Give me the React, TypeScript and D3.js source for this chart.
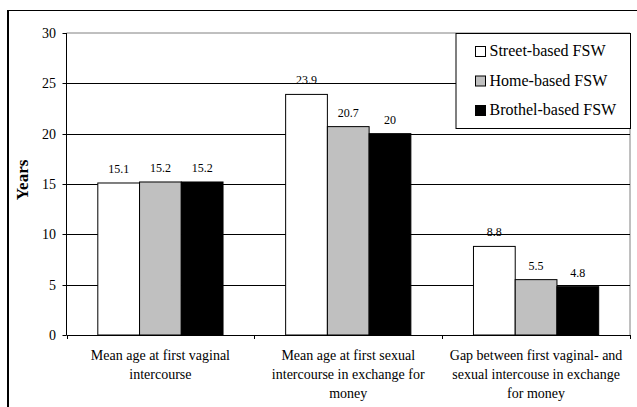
import React from 'react';
import * as d3 from 'd3';

// Chart data
const categories = [
  ['Mean age at first vaginal', 'intercourse'],
  ['Mean age at first sexual', 'intercourse in exchange for', 'money'],
  ['Gap between first vaginal- and', 'sexual intercouse in exchange', 'for money'],
];
const seriesNames = ['Street-based FSW', 'Home-based FSW', 'Brothel-based FSW'];
const seriesColors = ['#ffffff', '#c0c0c0', '#000000'];
const streetValues = [15.1, 23.9, 8.8];
const homeValues = [15.2, 20.7, 5.5];
const brothelValues = [15.2, 20, 4.8];
const yTicks = [0, 5, 10, 15, 20, 25, 30];

const W = 637;
const H = 407;
const FONT = 'Liberation Serif';

const left = 66.5;
const right = 630;
const top = 33;
const bottom = 335;

const App = () => {
  const series = [streetValues, homeValues, brothelValues];
  const catIdx = categories.map((_, i) => String(i));

  const x = d3.scaleBand().domain(catIdx).range([left, right]);
  const xInner = d3.scaleBand().domain(seriesNames).range([0, x.bandwidth()]).paddingOuter(0.75);
  const y = d3.scaleLinear().domain([0, 30]).range([bottom, top]);
  const py = (v: number) => Math.round(y(v)) + 0.5;
  const bounds = [...catIdx.map((c) => x(c) as number), right];

  return (
    <div style={{ position: 'fixed', left: 0, top: 0, width: W, height: H, background: '#fff' }}>
      <svg width={W} height={H} style={{ fontFamily: "'Liberation Serif'" }}>
        {/* outer frame */}
        <line x1={8} x2={W} y1={10.5} y2={10.5} stroke="#000" />
        <line x1={8} x2={8} y1={10} y2={H} stroke="#000" strokeWidth={2} />

        {/* plot border */}
        <path d={`M${left},${top}H${right}V${bottom}`} fill="none" stroke="#808080" />

        {/* gridlines */}
        {yTicks
          .filter((t) => t > 0 && t < 30)
          .map((t) => (
            <line key={t} x1={left} x2={right} y1={py(t)} y2={py(t)} stroke="#000" />
          ))}

        {/* bars */}
        {series.map((vals, s) =>
          vals.map((v, i) => {
            const bx = (x(String(i)) as number) + (xInner(seriesNames[s]) as number);
            return (
              <rect
                key={`${s}-${i}`}
                x={bx}
                y={y(v)}
                width={xInner.bandwidth()}
                height={bottom - y(v)}
                fill={seriesColors[s]}
                stroke="#000"
              />
            );
          })
        )}
        {series.map((vals, s) =>
          vals.map((v, i) => {
            const bx = (x(String(i)) as number) + (xInner(seriesNames[s]) as number);
            return (
              <text
                key={`l${s}-${i}`}
                x={bx + xInner.bandwidth() / 2}
                y={y(v) - 10}
                textAnchor="middle"
                fontSize={12}
                fontFamily={FONT}
              >
                {v}
              </text>
            );
          })
        )}

        {/* y axis */}
        <line x1={left} x2={left} y1={top} y2={bottom} stroke="#000" />
        {yTicks.map((t) => (
          <line key={`t${t}`} x1={left - 4} x2={left} y1={py(t)} y2={py(t)} stroke="#000" />
        ))}
        {yTicks.map((t) => (
          <text key={`y${t}`} x={56} y={y(t) + 5} textAnchor="end" fontSize={14} fontFamily={FONT}>
            {t}
          </text>
        ))}
        <text
          transform="translate(28,180) rotate(-90)"
          textAnchor="middle"
          fontWeight="bold"
          fontSize={17}
          fontFamily={FONT}
        >
          Years
        </text>

        {/* x axis */}
        <line x1={left} x2={right} y1={bottom + 0.5} y2={bottom + 0.5} stroke="#000" />
        {bounds.map((b) => (
          <line key={b} x1={Math.round(b) + 0.5} x2={Math.round(b) + 0.5} y1={bottom} y2={bottom + 4} stroke="#000" />
        ))}
        {categories.map((lines, i) => {
          const cx = (x(String(i)) as number) + x.bandwidth() / 2;
          return lines.map((l, j) => (
            <text key={`c${i}-${j}`} x={cx} y={360 + j * 19} textAnchor="middle" fontSize={14} fontFamily={FONT}>
              {l}
            </text>
          ));
        })}

        {/* legend */}
        <rect x={456} y={33.5} width={174.5} height={95} fill="#fff" stroke="#000" />
        {seriesNames.map((name, i) => {
          const yy = 56 + i * 29.5;
          return (
            <g key={name}>
              <rect x={475.5} y={yy - 9.5} width={10} height={10} fill={seriesColors[i]} stroke="#000" />
              <text x={489.5} y={yy} fontSize={16} fontFamily={FONT}>
                {name}
              </text>
            </g>
          );
        })}
      </svg>
    </div>
  );
};

export default App;
